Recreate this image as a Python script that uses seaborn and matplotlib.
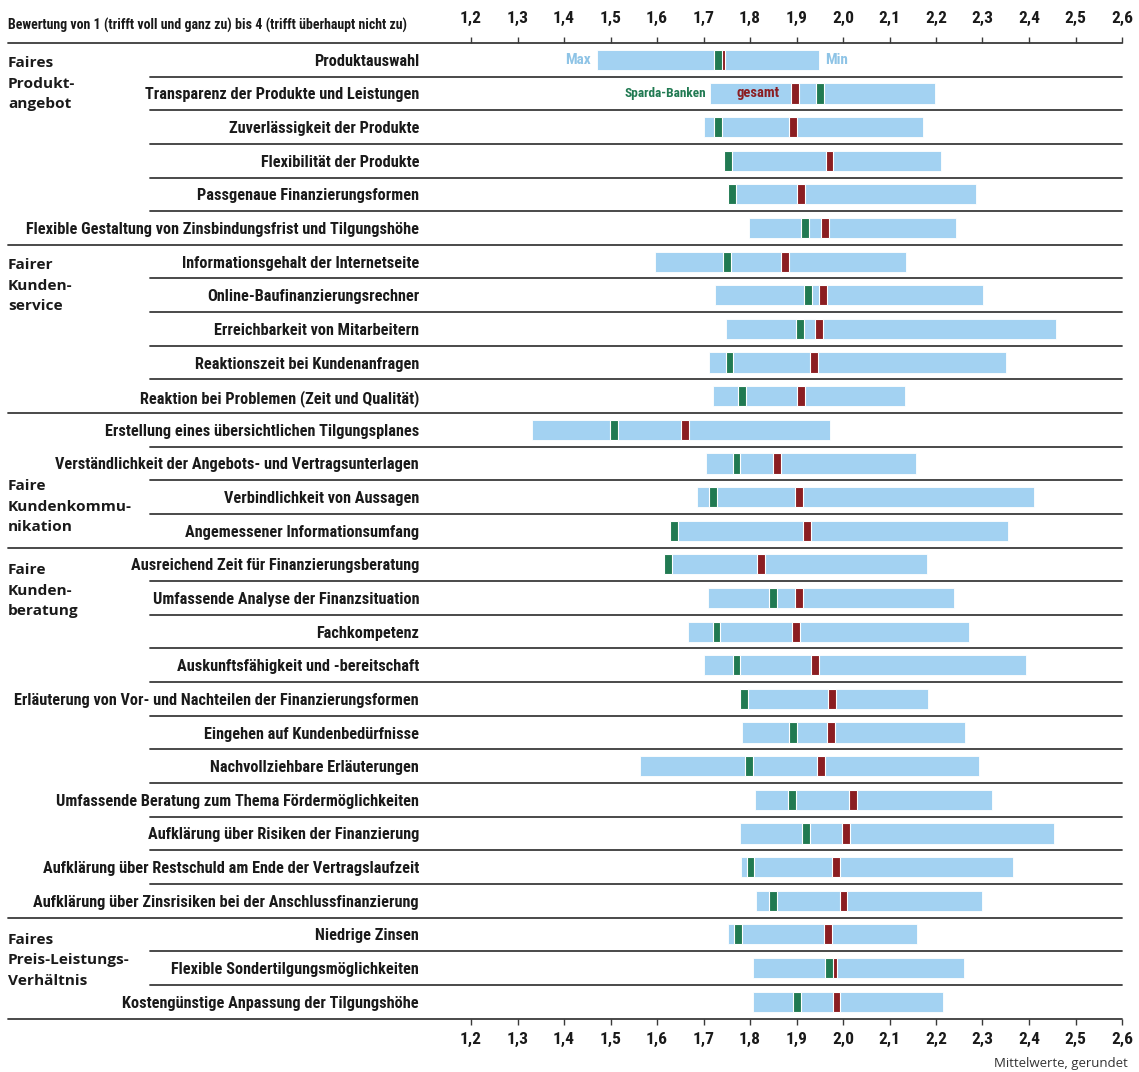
import os
import numpy as np
import pandas as pd
import matplotlib
matplotlib.use("Agg")
import matplotlib.pyplot as plt
import matplotlib.transforms as mtrans
from matplotlib import font_manager as fm
import seaborn as sns

sns.set_style("white")
plt.rcParams["font.family"] = ["DejaVu Sans"]


def find_font(patterns):
    files = [f.fname for f in fm.fontManager.ttflist]
    for pat in patterns:
        for fn in files:
            if os.path.basename(fn).lower().startswith(pat.lower()):
                return fn
    return None


COND_BOLD = find_font(["RobotoCondensed-Bold", "RobotoCondensed-SemiBold",
                       "NotoSans-CondensedBold", "NotoSans-CondensedSemiBold",
                       "OpenSans-CondensedBold", "OpenSans_Condensed-Bold",
                       "LiberationSansNarrow-Bold", "DejaVuSansCondensed-Bold"])
SANS_BOLD = find_font(["NotoSans-Bold.", "OpenSans-Bold.", "Lato-Bold.", "DejaVuSans-Bold."])
SANS_REG = find_font(["NotoSans-Regular.", "OpenSans-Regular.", "DejaVuSans."])


def fp(fname, size, fallback_weight="bold", scale=1.0):
    if fname:
        return fm.FontProperties(fname=fname, size=size)
    return fm.FontProperties(family="DejaVu Sans", weight=fallback_weight, size=size * scale)


# ---------------- data ----------------
items = [
    "Produktauswahl",
    "Transparenz der Produkte und Leistungen",
    "Zuverlässigkeit der Produkte",
    "Flexibilität der Produkte",
    "Passgenaue Finanzierungsformen",
    "Flexible Gestaltung von Zinsbindungsfrist und Tilgungshöhe",
    "Informationsgehalt der Internetseite",
    "Online-Baufinanzierungsrechner",
    "Erreichbarkeit von Mitarbeitern",
    "Reaktionszeit bei Kundenanfragen",
    "Reaktion bei Problemen (Zeit und Qualität)",
    "Erstellung eines übersichtlichen Tilgungsplanes",
    "Verständlichkeit der Angebots- und Vertragsunterlagen",
    "Verbindlichkeit von Aussagen",
    "Angemessener Informationsumfang",
    "Ausreichend Zeit für Finanzierungsberatung",
    "Umfassende Analyse der Finanzsituation",
    "Fachkompetenz",
    "Auskunftsfähigkeit und -bereitschaft",
    "Erläuterung von Vor- und Nachteilen der Finanzierungsformen",
    "Eingehen auf Kundenbedürfnisse",
    "Nachvollziehbare Erläuterungen",
    "Umfassende Beratung zum Thema Fördermöglichkeiten",
    "Aufklärung über Risiken der Finanzierung",
    "Aufklärung über Restschuld am Ende der Vertragslaufzeit",
    "Aufklärung über Zinsrisiken bei der Anschlussfinanzierung",
    "Niedrige Zinsen",
    "Flexible Sondertilgungsmöglichkeiten",
    "Kostengünstige Anpassung der Tilgungshöhe",
]
best = [1.471, 1.715, 1.701, 1.747, 1.756, 1.798, 1.595, 1.724, 1.749, 1.712,
        1.720, 1.331, 1.705, 1.686, 1.632, 1.619, 1.709, 1.667, 1.701, 1.782,
        1.783, 1.564, 1.811, 1.779, 1.781, 1.813, 1.752, 1.806, 1.806]
worst = [1.948, 2.198, 2.172, 2.211, 2.286, 2.244, 2.135, 2.301, 2.457, 2.351,
         2.133, 1.971, 2.156, 2.411, 2.355, 2.181, 2.238, 2.270, 2.393, 2.183,
         2.262, 2.293, 2.320, 2.454, 2.366, 2.298, 2.160, 2.260, 2.216]
sparda = [1.731, 1.951, 1.732, 1.752, 1.761, 1.918, 1.750, 1.925, 1.907, 1.756,
          1.783, 1.508, 1.771, 1.721, 1.636, 1.623, 1.850, 1.728, 1.771, 1.787,
          1.893, 1.798, 1.891, 1.920, 1.801, 1.849, 1.774, 1.970, 1.902]
gesamt = [1.738, 1.896, 1.893, 1.971, 1.909, 1.962, 1.875, 1.957, 1.949, 1.937,
          1.909, 1.661, 1.859, 1.905, 1.922, 1.823, 1.905, 1.898, 1.939, 1.976,
          1.974, 1.953, 2.021, 2.007, 1.984, 2.001, 1.967, 1.978, 1.986]
groups = ["Faires\nProdukt-\nangebot", "Fairer\nKunden-\nservice",
          "Faire\nKundenkommu-\nnikation", "Faire\nKunden-\nberatung",
          "Faires\nPreis-Leistungs-\nVerhältnis"]
group_label_pos = [0.71, 6.72, 13.28, 15.78, 26.77]
group_breaks = [5.5, 10.5, 14.5, 25.5]
ticks = [1.2, 1.3, 1.4, 1.5, 1.6, 1.7, 1.8, 1.9, 2.0, 2.1, 2.2, 2.3, 2.4, 2.5, 2.6]
tick_labels = [f"{t:.1f}".replace(".", ",") for t in ticks]
header = "Bewertung von 1 (trifft voll und ganz zu) bis 4 (trifft überhaupt nicht zu)"

# ---------------- styles ----------------
BLUE = "#a3d2f2"
GREEN = "#217a52"
RED = "#8b1e22"
LBLUE = "#8fc4e6"
LINE = "#3a3a3a"
TXT = "#1a1a1a"
MW = 0.017  # marker width in data units
SC = 0.78   # shrink factor if no condensed font is available

df = pd.DataFrame({"item": items, "best": best, "worst": worst,
                   "sparda": sparda, "gesamt": gesamt})
df["span"] = df["worst"] - df["best"]
df["mw"] = MW

fig = plt.figure(figsize=(11.39, 10.72), dpi=100)
L, R, T, B = 471 / 1139, 1122 / 1139, 1 - 43 / 1072, 1 - 1018.5 / 1072
ax = fig.add_axes([L, B, R - L, T - B])

sns.barplot(data=df, x="span", y="item", order=items, orient="y",
            left=df["best"].values, width=0.6, color=BLUE, saturation=1,
            errorbar=None, edgecolor="white", linewidth=0.6, ax=ax, zorder=2)
sns.barplot(data=df, x="mw", y="item", order=items, orient="y",
            left=(df["gesamt"] - MW / 2).values, width=0.6, color=RED, saturation=1,
            errorbar=None, edgecolor="white", linewidth=0.8, ax=ax, zorder=3)
sns.barplot(data=df, x="mw", y="item", order=items, orient="y",
            left=(df["sparda"] - MW / 2).values, width=0.6, color=GREEN, saturation=1,
            errorbar=None, edgecolor="white", linewidth=0.8, ax=ax, zorder=4)

n = len(items)
ax.set_xlim(ticks[0], ticks[-1])
ax.set_ylim(n - 0.5, -0.5)
ax.set_xlabel("")
ax.set_ylabel("")
for s in ax.spines.values():
    s.set_visible(False)

tick_fp = fp(COND_BOLD, 12.5, scale=SC)
ax.set_xticks(ticks)
ax.set_xticklabels(tick_labels, fontproperties=tick_fp)
ax.tick_params(axis="x", bottom=True, top=False, labelbottom=True, labeltop=False,
               direction="out", length=4, width=1, color=LINE, pad=6, labelcolor=TXT)
sec = ax.secondary_xaxis("top")
sec.set_xticks(ticks)
sec.set_xticklabels(tick_labels, fontproperties=tick_fp)
sec.tick_params(axis="x", direction="out", length=4, width=1, color=LINE, pad=8,
                labelcolor=TXT)
sec.spines["top"].set_visible(False)

ax.set_yticks(range(n))
ax.set_yticklabels(items, fontproperties=fp(COND_BOLD, 11.7, scale=SC))
ax.tick_params(axis="y", length=0, pad=37.4, labelcolor=TXT)

# separators
full_x0 = (8 - 471) / 651
short_x0 = (150 - 471) / 651
for yb in np.arange(-0.5, n, 1.0):
    x0 = full_x0 if (yb in (-0.5, n - 0.5) or yb in group_breaks) else short_x0
    ax.axhline(yb, xmin=x0, xmax=1, color=LINE, lw=1.3, clip_on=False, zorder=1)

# group labels
tr = mtrans.blended_transform_factory(ax.transAxes, ax.transData)
grp_fp = fp(SANS_BOLD, 11.1)
for g, yp in zip(groups, group_label_pos):
    ax.text(full_x0, yp, g, transform=tr, ha="left", va="center",
            fontproperties=grp_fp, linespacing=1.58, color=TXT)

# in-chart legend annotations
ann_fp = fp(COND_BOLD, 11, scale=SC)
ax.text(best[0] - 0.014, 0, "Max", ha="right", va="center", color=LBLUE,
        fontproperties=ann_fp)
ax.text(worst[0] + 0.014, 0, "Min", ha="left", va="center", color=LBLUE,
        fontproperties=ann_fp)
ax.text(best[1] - 0.01, 1, "Sparda-Banken", ha="right", va="center", color=GREEN,
        fontproperties=fp(COND_BOLD, 9.6, scale=SC))
ax.text((best[1] + gesamt[1]) / 2 + 0.012, 1, "gesamt", ha="center", va="center",
        color=RED, fontproperties=fp(COND_BOLD, 10.5, scale=SC), zorder=5)

fig.text(8 / 1139, 1 - 25 / 1072, header, ha="left", va="center",
         fontproperties=fp(COND_BOLD, 10, scale=SC), color=TXT)
fig.text(1128 / 1139, 1 - 1063 / 1072, "Mittelwerte, gerundet", ha="right",
         va="center", fontproperties=fp(SANS_REG, 9.5, fallback_weight="normal"),
         color="#333333")

fig.savefig("out.png", dpi=100, facecolor="white")
